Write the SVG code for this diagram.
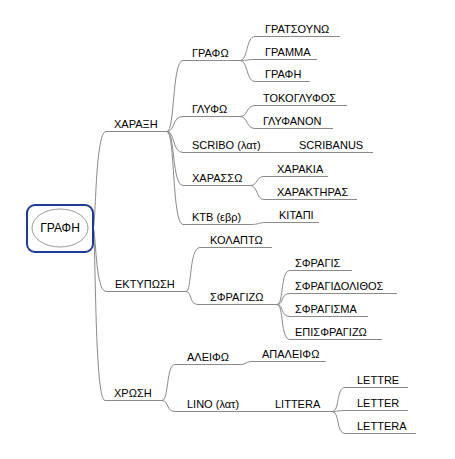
<svg xmlns="http://www.w3.org/2000/svg" width="455" height="459" viewBox="0 0 455 459">
<style>
.t{font-family:"Liberation Sans",Arial,sans-serif;font-size:11px;fill:#000}
.u,.c{stroke:#8a8a8a;stroke-width:1;fill:none}
</style>
<rect width="455" height="459" fill="#fff"/>
<g id="connectors" class="c">
<path d="M93,228 C96,228 95,131.5 106,131.5"/>
<path d="M93,228 C96,228 95,291.5 106,291.5"/>
<path d="M93,228 C96,228 94,400.5 105,400.5"/>
<path d="M167,131.5 C175,131.5 172,60.5 183,60.5"/>
<path d="M167,131.5 C175,131.5 172,116.5 183,116.5"/>
<path d="M167,131.5 C175,131.5 172,152.5 183,152.5"/>
<path d="M167,131.5 C175,131.5 172,185.5 183,185.5"/>
<path d="M167,131.5 C175,131.5 172,224.5 183,224.5"/>
<path d="M240,60.5 C248,60.5 246,36.5 255,36.5"/>
<path d="M240,60.5 C248,60.5 246,59.5 255,59.5"/>
<path d="M240,60.5 C248,60.5 246,81.5 255,81.5"/>
<path d="M240,116.5 C248,116.5 246,105.5 255,105.5"/>
<path d="M240,116.5 C248,116.5 246,128.5 255,128.5"/>
<path d="M280,152.5 C285,152.5 285,152.5 290,152.5"/>
<path d="M250,185.5 C258,185.5 256,176.5 264,176.5"/>
<path d="M250,185.5 C258,185.5 256,199.5 264,199.5"/>
<path d="M251,224.5 C259,224.5 258,222.5 266,222.5"/>
<path d="M186,291.5 C192,291.5 189,247.5 200,247.5"/>
<path d="M186,291.5 C192,291.5 189,304.5 198,304.5"/>
<path d="M277,304.5 C284,304.5 280,270.5 290,270.5"/>
<path d="M277,304.5 C284,304.5 280,293.5 290,293.5"/>
<path d="M277,304.5 C284,304.5 280,316.5 290,316.5"/>
<path d="M277,304.5 C284,304.5 280,339.5 290,339.5"/>
<path d="M162,400.5 C169,400.5 166,364.5 175,364.5"/>
<path d="M162,400.5 C169,400.5 166,411.5 175,411.5"/>
<path d="M240,364.5 C246,364.5 246,361.5 252,361.5"/>
<path d="M255,411.5 C260,411.5 260,411.5 265,411.5"/>
<path d="M332,411.5 C340,411.5 336,387.5 345,387.5"/>
<path d="M332,411.5 C340,411.5 336,410.5 345,410.5"/>
<path d="M332,411.5 C340,411.5 336,433.5 345,433.5"/>
</g>
<g id="root">
<rect x="27" y="205" width="66" height="47" rx="8" fill="#fff" stroke="#1f3a93" stroke-width="2"/>
<ellipse cx="60" cy="228" rx="28" ry="19" fill="#fff" stroke="#9a9a9a"/>
<text class="t" x="60" y="232" text-anchor="middle" style="font-size:12px">ΓΡΑΦΗ</text>
</g>
<g id="n-charaxi"><line class="u" x1="106" y1="131.5" x2="167" y2="131.5"/><text class="t" x="114" y="128">ΧΑΡΑΞΗ</text></g>
<g id="n-ektyposi"><line class="u" x1="106" y1="291.5" x2="186" y2="291.5"/><text class="t" x="115" y="288">ΕΚΤΥΠΩΣΗ</text></g>
<g id="n-chrosi"><line class="u" x1="105" y1="400.5" x2="162" y2="400.5"/><text class="t" x="114" y="397">ΧΡΩΣΗ</text></g>
<g id="n-grafo"><line class="u" x1="183" y1="60.5" x2="240" y2="60.5"/><text class="t" x="192" y="57">ΓΡΑΦΩ</text></g>
<g id="n-glyfo"><line class="u" x1="183" y1="116.5" x2="240" y2="116.5"/><text class="t" x="192" y="113">ΓΛΥΦΩ</text></g>
<g id="n-scribo"><line class="u" x1="183" y1="152.5" x2="280" y2="152.5"/><text class="t" x="192" y="149">SCRIBO (λατ)</text></g>
<g id="n-charasso"><line class="u" x1="183" y1="185.5" x2="250" y2="185.5"/><text class="t" x="192" y="182">ΧΑΡΑΣΣΩ</text></g>
<g id="n-ktv"><line class="u" x1="183" y1="224.5" x2="251" y2="224.5"/><text class="t" x="192" y="221">ΚΤΒ (εβρ)</text></g>
<g id="n-gratsouno"><line class="u" x1="255" y1="36.5" x2="340" y2="36.5"/><text class="t" x="265" y="33">ΓΡΑΤΣΟΥΝΩ</text></g>
<g id="n-gramma"><line class="u" x1="255" y1="59.5" x2="317" y2="59.5"/><text class="t" x="265" y="56">ΓΡΑΜΜΑ</text></g>
<g id="n-grafi"><line class="u" x1="255" y1="81.5" x2="310" y2="81.5"/><text class="t" x="265" y="78">ΓΡΑΦΗ</text></g>
<g id="n-tokoglyfos"><line class="u" x1="255" y1="105.5" x2="347" y2="105.5"/><text class="t" x="263" y="102">ΤΟΚΟΓΛΥΦΟΣ</text></g>
<g id="n-glyfanon"><line class="u" x1="255" y1="128.5" x2="333" y2="128.5"/><text class="t" x="263" y="125">ΓΛΥΦΑΝΟΝ</text></g>
<g id="n-scribanus"><line class="u" x1="290" y1="152.5" x2="373" y2="152.5"/><text class="t" x="299" y="149">SCRIBANUS</text></g>
<g id="n-charakia"><line class="u" x1="264" y1="176.5" x2="328" y2="176.5"/><text class="t" x="277" y="173">ΧΑΡΑΚΙΑ</text></g>
<g id="n-charaktiras"><line class="u" x1="264" y1="199.5" x2="357" y2="199.5"/><text class="t" x="277" y="196">ΧΑΡΑΚΤΗΡΑΣ</text></g>
<g id="n-kitapi"><line class="u" x1="266" y1="222.5" x2="319" y2="222.5"/><text class="t" x="279" y="219">ΚΙΤΑΠΙ</text></g>
<g id="n-kolapto"><line class="u" x1="200" y1="247.5" x2="272" y2="247.5"/><text class="t" x="210" y="244">ΚΟΛΑΠΤΩ</text></g>
<g id="n-sfragizo"><line class="u" x1="198" y1="304.5" x2="277" y2="304.5"/><text class="t" x="210" y="301">ΣΦΡΑΓΙΖΩ</text></g>
<g id="n-sfragis"><line class="u" x1="290" y1="270.5" x2="352" y2="270.5"/><text class="t" x="295" y="267">ΣΦΡΑΓΙΣ</text></g>
<g id="n-sfragidolithos"><line class="u" x1="290" y1="293.5" x2="397" y2="293.5"/><text class="t" x="295" y="290">ΣΦΡΑΓΙΔΟΛΙΘΟΣ</text></g>
<g id="n-sfragisma"><line class="u" x1="290" y1="316.5" x2="368" y2="316.5"/><text class="t" x="295" y="313">ΣΦΡΑΓΙΣΜΑ</text></g>
<g id="n-episfragizo"><line class="u" x1="290" y1="339.5" x2="382" y2="339.5"/><text class="t" x="295" y="336">ΕΠΙΣΦΡΑΓΙΖΩ</text></g>
<g id="n-aleifo"><line class="u" x1="175" y1="364.5" x2="240" y2="364.5"/><text class="t" x="187" y="361">ΑΛΕΙΦΩ</text></g>
<g id="n-lino"><line class="u" x1="175" y1="411.5" x2="255" y2="411.5"/><text class="t" x="187" y="408">LINO (λατ)</text></g>
<g id="n-apaleifo"><line class="u" x1="252" y1="361.5" x2="326" y2="361.5"/><text class="t" x="262" y="358">ΑΠΑΛΕΙΦΩ</text></g>
<g id="n-littera"><line class="u" x1="265" y1="411.5" x2="332" y2="411.5"/><text class="t" x="275" y="408">LITTERA</text></g>
<g id="n-lettre"><line class="u" x1="345" y1="387.5" x2="408" y2="387.5"/><text class="t" x="357" y="384">LETTRE</text></g>
<g id="n-letter"><line class="u" x1="345" y1="410.5" x2="408" y2="410.5"/><text class="t" x="357" y="407">LETTER</text></g>
<g id="n-lettera"><line class="u" x1="345" y1="433.5" x2="416" y2="433.5"/><text class="t" x="357" y="430">LETTERA</text></g>
</svg>
